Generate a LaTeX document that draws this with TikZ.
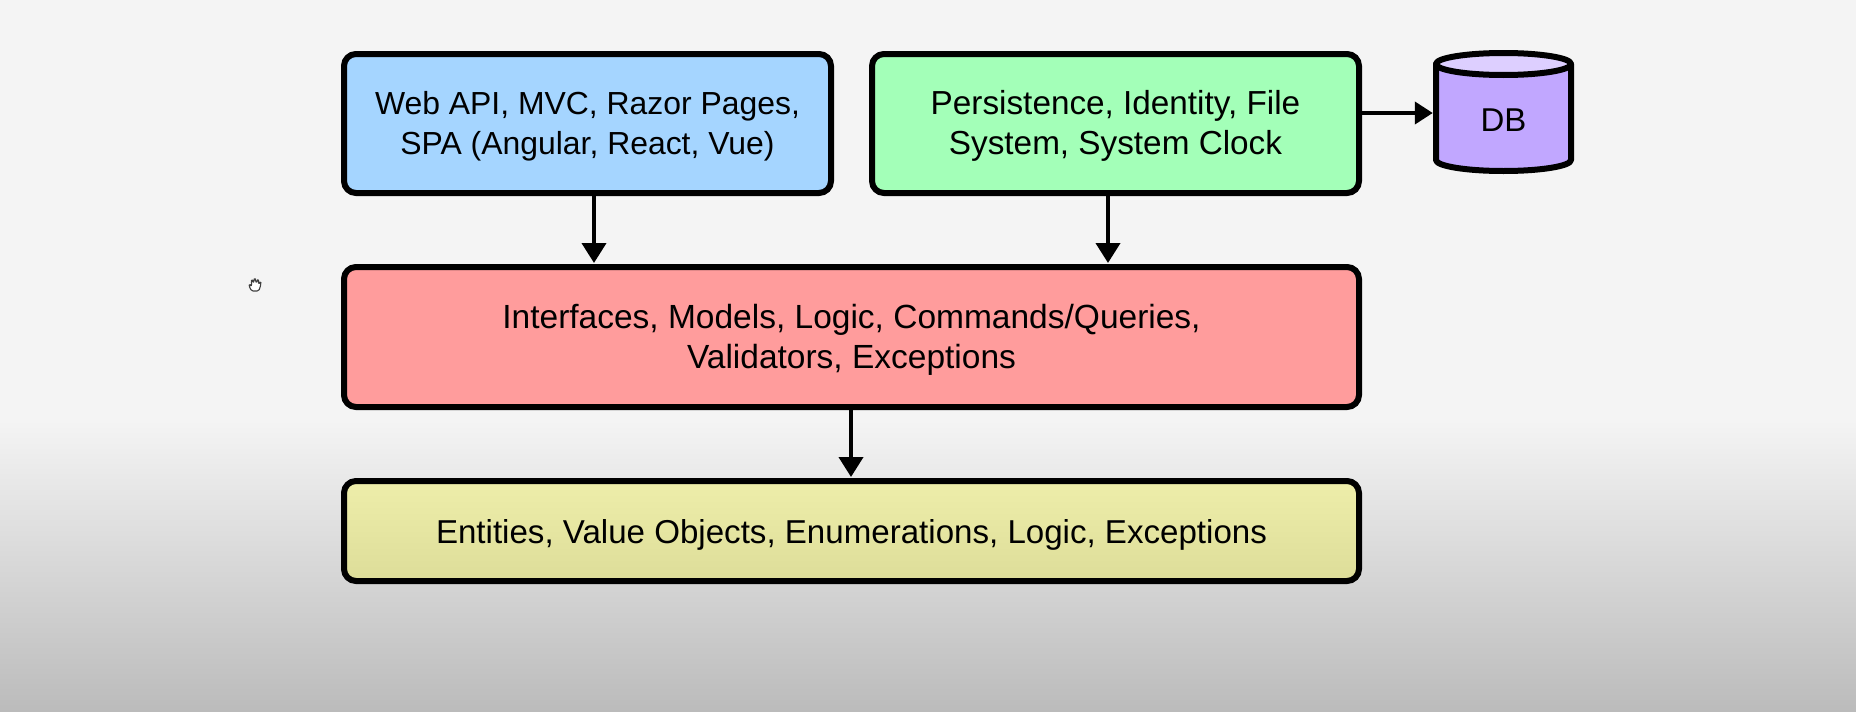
\documentclass[tikz,border=0pt]{standalone}
\usepackage{fontspec}
\setmainfont{Liberation Sans}
\usetikzlibrary{arrows.meta}
\definecolor{bgtop}{HTML}{F4F4F4}
\definecolor{bgbot}{HTML}{BBBBBB}
\definecolor{cblue}{HTML}{A5D5FF}
\definecolor{cgreen}{HTML}{A3FFB8}
\definecolor{cred}{HTML}{FF9C9C}
\definecolor{cyeltop}{HTML}{EEEEAA}
\definecolor{cyelbot}{HTML}{DDDD99}
\definecolor{cpurple}{HTML}{C1A7FF}
\definecolor{cpurplel}{HTML}{DDCFFF}
\tikzset{
  layerbox/.style={draw=black,line width=6pt,rounded corners=12pt,align=center,inner sep=0pt,text depth=0pt},
  twolines/.style={text height=62pt},
  oneline/.style={text height=24pt},
  arr/.style={draw=black,line width=4pt,-{Triangle[length=20pt,width=24pt]}},
  cyl/.style={draw=black,line width=6pt,line join=round},
}
\begin{document}
\begin{tikzpicture}[x=1pt,y=-1pt]
\useasboundingbox (0,0) rectangle (1856,712);
\fill[bgtop] (0,0) rectangle (1856,421);
\shade[top color=bgtop,bottom color=bgbot] (0,420) rectangle (1856,712);
% hand cursor
\draw[fill=white,draw=black!75,line width=1.1pt,rounded corners=1.5pt,line join=round]
  (251.5,291) -- (248.8,285.5) -- (250.3,284.5) -- (251.8,286) -- (251.3,280.5) -- (252.8,280) -- (253.6,283.5)
  -- (254,279) -- (255.6,279) -- (256,283.5) -- (257.2,279.8) -- (258.7,280.3) -- (258.2,284.5)
  -- (259.8,282) -- (261,282.8) -- (260,288) -- (258.6,291) -- cycle;
\node[layerbox,twolines,fill=cblue,minimum width=487pt,minimum height=139pt,font=\fontsize{31.9}{39.7}\selectfont] (web) at (587.5,123.5)
  {Web API, MVC, Razor Pages,\\SPA (Angular, React, Vue)};
\node[layerbox,twolines,fill=cgreen,minimum width=487pt,minimum height=139pt,font=\fontsize{33.3}{39.7}\selectfont] (infra) at (1115.5,123.5)
  {Persistence, Identity, File\\System, System Clock};
\node[layerbox,twolines,fill=cred,minimum width=1015pt,minimum height=140pt,font=\fontsize{33.5}{39.7}\selectfont] (app) at (851.5,337)
  {Interfaces, Models, Logic, Commands/Queries,\\Validators, Exceptions};
\node[layerbox,oneline,top color=cyeltop,bottom color=cyelbot,minimum width=1015pt,minimum height=100pt,font=\fontsize{33.1}{39.7}\selectfont] (dom) at (851.5,531)
  {Entities, Value Objects, Enumerations, Logic, Exceptions};
% database cylinder
\draw[cyl,fill=cpurple] (1436,64) -- (1436,160) arc[start angle=180,end angle=360,x radius=67.5pt,y radius=11pt]
  -- (1571,64) -- cycle;
\draw[cyl,fill=cpurplel] (1503.5,64) ellipse[x radius=67.5pt,y radius=11pt];
\node[minimum width=141pt,minimum height=124pt,inner sep=0pt,text height=38pt,text depth=0pt,font=\fontsize{33}{39.7}\selectfont] (db) at (1503.5,112)
  {DB};
\coordinate (c1) at (594,0);
\coordinate (c2) at (1108,0);
\coordinate (c3) at (851,0);
\coordinate (c4) at (0,113);
\draw[arr,shorten >=1pt] (web.south -| c1) -- (app.north -| c1);
\draw[arr,shorten >=1pt] (infra.south -| c2) -- (app.north -| c2);
\draw[arr,shorten >=1pt] (app.south -| c3) -- (dom.north -| c3);
\draw[arr,-{Triangle[length=18pt,width=22pt]}] (infra.east |- c4) -- (db.west |- c4);
\end{tikzpicture}
\end{document}
